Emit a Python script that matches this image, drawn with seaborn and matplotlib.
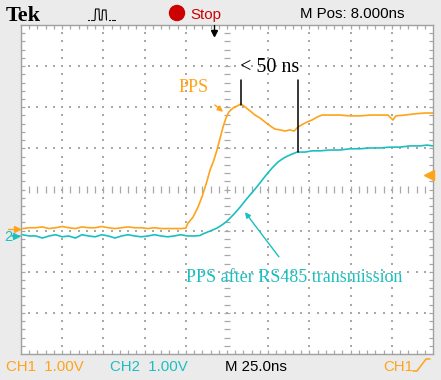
import numpy as np
import pandas as pd
import matplotlib
matplotlib.use('Agg')
import matplotlib.pyplot as plt
import seaborn as sns
from matplotlib.lines import Line2D
from matplotlib.patches import Ellipse

# ---------------- data (time in ns, screen volts) ----------------
ch1_t = [-116, -112, -108, -104, -100, -96, -92, -88, -84, -80, -76, -72, -68,
         -64, -60, -56, -52, -48, -44, -40, -36, -32, -28, -24, -20,
         -17, -15.7, -12.6, -9.6, -7.2, -4.1, -2.3, 0.1, 1.9, 3.8, 5.6, 7.4,
         9.2, 11.6, 14.1, 16.5, 18.9, 22.0, 25.0, 28.0, 31.1, 34.1, 37.1,
         40.2, 43.2, 46.2, 48.7, 51.1, 54.1, 56.5, 59.6, 62.6, 65.6, 70.5,
         76.5, 82.6, 88.7, 94.8, 99.6, 105.7, 108.7, 110.5, 116.0, 122.1,
         128.1, 132.8]
ch1_v = [-0.95, -0.93, -0.93, -0.91, -0.95, -0.93, -0.90, -0.93, -0.95, -0.91,
         -0.93, -0.93, -0.90, -0.93, -0.95, -0.93, -0.91, -0.93, -0.93, -0.95,
         -0.93, -0.95, -0.95, -0.95, -0.95,
         -0.94, -0.82, -0.67, -0.43, -0.18, 0.21, 0.47, 0.72, 0.96, 1.25, 1.52,
         1.74, 1.89, 1.98, 2.03, 2.08, 2.01, 1.91, 1.81, 1.74, 1.64, 1.55, 1.47,
         1.45, 1.42, 1.45, 1.42, 1.52, 1.59, 1.64, 1.69, 1.76, 1.81, 1.81,
         1.81, 1.79, 1.79, 1.81, 1.81, 1.81, 1.69, 1.79, 1.81, 1.84, 1.86, 1.86]

ch2_t = [-116, -112, -108, -104, -100, -96, -92, -88, -84, -80, -76, -72, -68,
         -64, -60, -56, -52, -48, -44, -40, -36, -32, -28, -24, -20, -16, -12,
         -8.4, -6.6, -2.3, 1.9, 5.0, 8.0, 12.2, 15.9, 18.9, 22.0, 25.0, 28.0,
         31.7, 35.3, 39.0, 42.6, 46.2, 50.5, 55.3, 59.6, 64.4, 70.5, 76.5,
         82.6, 88.7, 94.8, 100.8, 106.9, 113.0, 119.0, 125.1, 129.4, 132.8]
ch2_v = [-1.10, -1.13, -1.13, -1.18, -1.13, -1.10, -1.15, -1.13, -1.18, -1.10,
         -1.13, -1.15, -1.10, -1.13, -1.18, -1.13, -1.10, -1.13, -1.15, -1.13,
         -1.10, -1.13, -1.15, -1.13, -1.10, -1.13, -1.13,
         -1.12, -1.08, -1.01, -0.94, -0.86, -0.77, -0.60, -0.43, -0.28, -0.13,
         0.01, 0.16, 0.35, 0.52, 0.67, 0.77, 0.84, 0.91, 0.91, 0.94, 0.94,
         0.96, 0.96, 0.99, 0.99, 1.01, 1.01, 1.03, 1.03, 1.06, 1.06, 1.08, 1.06]

channels = ["CH1", "CH2"]
ORANGE = '#FFA31A'
TEAL = '#1CBFBF'
BG = '#EBEBEB'
GRID = '#A8A8A8'

df = pd.concat([
    pd.DataFrame({"t": ch1_t, "v": ch1_v, "ch": "CH1"}),
    pd.DataFrame({"t": ch2_t, "v": ch2_v, "ch": "CH2"}),
])

sns.set_style('white')
W, H = 441, 380
fig = plt.figure(figsize=(4.41, 3.80), dpi=100, facecolor=BG)
ax = fig.add_axes([21 / W, 26 / H, 412 / W, 329 / H])
ax.set_facecolor('white')

X0, X1 = -117, 133
ax.set_xlim(X0, X1)
ax.set_ylim(-4, 4)

# ---------- graticule ----------
xc = 8
minor_t = X0 + 5 * np.arange(51)
minor_v = np.round(-4 + 0.2 * np.arange(41), 2)
major_t = X0 + 25 * np.arange(11)
for k, t in enumerate(major_t[1:-1], start=1):
    if k == 5:
        continue
    ax.scatter(np.full(len(minor_v) - 2, t), minor_v[1:-1], s=1.5, marker='s',
               color=GRID, linewidths=0, zorder=1)
for V in [-3, -2, -1, 1, 2, 3]:
    ax.scatter(minor_t[1:-1], np.full(len(minor_t) - 2, V), s=1.5, marker='s',
               color=GRID, linewidths=0, zorder=1)
# centre cross
ax.hlines(minor_v[1:-1], xc - 1.6, xc + 1.6, color=GRID, lw=0.9, zorder=1)
ax.vlines(minor_t[1:-1], -0.08, 0.08, color=GRID, lw=0.9, zorder=1)
# border ticks
ax.hlines(minor_v[1:-1], X0, X0 + 2.2, color=GRID, lw=0.9, zorder=1)
ax.hlines(minor_v[1:-1], X1 - 2.2, X1, color=GRID, lw=0.9, zorder=1)
ax.vlines(minor_t[1:-1], -4, -4 + 0.1, color=GRID, lw=0.9, zorder=1)
ax.vlines(minor_t[1:-1], 4 - 0.1, 4, color=GRID, lw=0.9, zorder=1)

for s in ax.spines.values():
    s.set_color('#A0A0A0')
    s.set_linewidth(1.0)
ax.set_xticks([])
ax.set_yticks([])

# ---------- traces ----------
sns.lineplot(data=df, x="t", y="v", hue="ch", hue_order=channels,
             palette=[ORANGE, TEAL], estimator=None, sort=False,
             lw=1.2, legend=False, ax=ax, zorder=3)
ax.set_xlabel('')
ax.set_ylabel('')

# ---------- annotations ----------
ax.plot([16.2, 16.2], [2.06, 2.66], color='black', lw=1.1, zorder=4)
ax.plot([50.9, 50.9], [0.91, 2.66], color='black', lw=1.1, zorder=4)
ax.text(34.0, 2.96, '< 50 ns', ha='center', va='center', fontsize=14.5,
        family='Liberation Serif', color='black', zorder=5)
ax.annotate('PPS', xy=(5.6, 1.89), xytext=(-12.0, 2.47), ha='center', va='center',
            fontsize=13, family='Liberation Serif', color=ORANGE,
            arrowprops=dict(arrowstyle='-|>', color=ORANGE, lw=1.0,
                            mutation_scale=8, shrinkA=6, shrinkB=0), zorder=5)
ax.annotate('PPS after RS485 transmission', xy=(18.9, -0.55), xytext=(49.0, -2.14),
            ha='center', va='center', fontsize=13, family='Liberation Serif',
            color=TEAL,
            arrowprops=dict(arrowstyle='-|>', color=TEAL, lw=1.0,
                            mutation_scale=8, shrinkA=8, shrinkB=0), zorder=5)

# trigger level marker (right) and trigger position (top)
ax.plot([130.5], [0.35], marker='<', color=ORANGE, markersize=7, clip_on=False, zorder=5)
ax.plot([0, 0], [3.82, 4.0], color='black', lw=1.0, clip_on=False, zorder=5)
ax.plot([0], [3.8], marker='v', color='black', markersize=4, clip_on=False, zorder=5)

# ---------- outer instrument labels (pixel coordinates) ----------
def P(x, y):
    return (x / W, 1 - y / H)

SANS = ['Liberation Sans', 'DejaVu Sans']
fs = 10.8

fig.text(*P(6, 21), 'Tek', fontsize=16, fontweight='bold', family='Liberation Serif',
         color='black', va='baseline', ha='left')
# pulse icon
px = [95, 95.5, 99, 99.5, 102, 102.5, 106, 106.5]
py = [20, 9, 9, 20, 20, 10, 10, 20]
fig.add_artist(Line2D([p / W for p in px], [1 - q / H for q in py], color='black', lw=0.8))
for dx in [88, 90.5, 93, 109, 111.5, 114, 116.5]:
    fig.add_artist(Line2D([dx / W, (dx + 1) / W], [1 - 20 / H] * 2, color='black', lw=0.8))
fig.add_artist(Ellipse(P(177, 13), 15 / W, 15 / H, color='#CC0000'))
fig.text(*P(190, 18.5), 'Stop', fontsize=fs, family=SANS, color='#CC0000',
         va='baseline', ha='left')
fig.text(*P(300, 18.5), 'M Pos: 8.000ns', fontsize=fs, family=SANS, color='black',
         va='baseline', ha='left')

fig.text(*P(6, 371), 'CH1  1.00V', fontsize=fs, family=SANS, color=ORANGE,
         va='baseline', ha='left')
fig.text(*P(110, 371), 'CH2  1.00V', fontsize=fs, family=SANS, color=TEAL,
         va='baseline', ha='left')
fig.text(*P(225, 371), 'M 25.0ns', fontsize=fs, family=SANS, color='black',
         va='baseline', ha='left')
fig.text(*P(383, 371), 'CH1', fontsize=fs, family=SANS, color=ORANGE,
         va='baseline', ha='left')
ex = [413, 417, 426, 430]
ey = [371, 371, 359, 359]
fig.add_artist(Line2D([p / W for p in ex], [1 - q / H for q in ey], color=ORANGE, lw=1.1))

# channel ground markers (left)
fig.add_artist(Line2D([8 / W, 20 / W], [1 - 229 / H] * 2, color=ORANGE, lw=1.0))
fig.add_artist(Line2D([17 / W], [1 - 229 / H], marker='>', markersize=4, color=ORANGE))
fig.text(*P(4, 241), '2', fontsize=10.5, family=SANS, color=TEAL, va='baseline', ha='left')
fig.add_artist(Line2D([12 / W, 20 / W], [1 - 236 / H] * 2, color=TEAL, lw=1.2))
fig.add_artist(Line2D([15.5 / W], [1 - 236 / H], marker='>', markersize=5, color=TEAL))

fig.savefig('out.png', dpi=100, facecolor=BG)
